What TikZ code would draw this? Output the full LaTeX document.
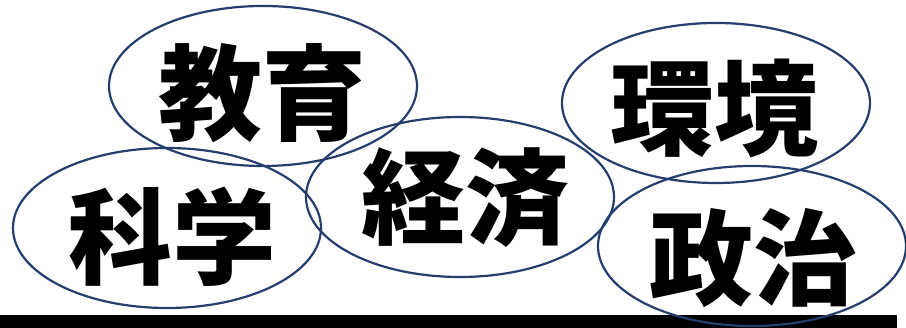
\documentclass[tikz,border=0pt]{standalone}
\usepackage{fontspec}
\newfontfamily\cjk{Noto Sans CJK JP}[BoldFont={Noto Sans CJK JP Black}]
\usetikzlibrary{shapes.geometric}
\definecolor{ringblue}{RGB}{38,62,110}
\tikzset{
  ring/.style={ellipse, draw=ringblue, line width=2.2pt, minimum width=308pt, minimum height=160pt, inner sep=0pt},
  word/.style={font=\cjk\bfseries\fontsize{104}{104}\selectfont, text=black, inner sep=0pt}
}
\begin{document}
\begin{tikzpicture}[x=1pt,y=-1pt]
\useasboundingbox (0,0) rectangle (906,328);
\fill[black] (0,315) rectangle (897,328);
% texts
\node[word] (t1) at (262,93) {教育};
\node[word] (t2) at (172,237) {科学};
\node[word] (t3) at (465,198) {経済};
\node[word] (t4) at (714,108) {環境};
\node[word] (t5) at (753,258) {政治};
% ellipses
\node[ring] (e1) at (263,86) {};
\node[ring] (e2) at (167,228) {};
\node[ring] (e3) at (460,197) {};
\node[ring] (e4) at (716,103) {};
\node[ring] (e5) at (752,246) {};
\end{tikzpicture}
\end{document}
